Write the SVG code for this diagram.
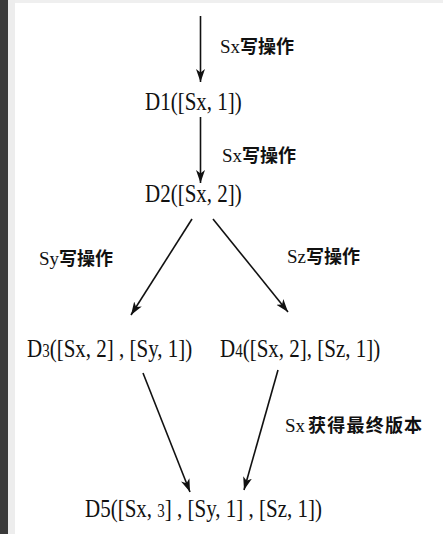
<svg xmlns="http://www.w3.org/2000/svg" width="443" height="534" viewBox="0 0 443 534">
  <defs>
    <marker id="ah" markerUnits="userSpaceOnUse" markerWidth="14" markerHeight="10" refX="13" refY="4.5" orient="auto">
      <path d="M0,0 L13,4.5 L0,9 L3.5,4.5 z" fill="#111"/>
    </marker>
    <style>
      .n { font-family: "Liberation Serif", "Times New Roman", serif; font-size: 21px; fill: #111; }
      .s { font-size: 15px; }
      .l { font-family: "Liberation Serif", "Noto Sans CJK SC", serif; font-size: 19px; fill: #111; }
      .c { font-family: "Noto Sans CJK SC", sans-serif; font-weight: bold; font-size: 18px; }
      .e { stroke: #111; stroke-width: 1.6; fill: none; marker-end: url(#ah); }
    </style>
  </defs>
  <rect x="0" y="0" width="443" height="534" fill="#ffffff"/>
  <rect x="0" y="0" width="443" height="3" fill="#efefef"/>
  <rect x="8" y="0" width="7" height="534" fill="#ededed"/>
  <rect x="0" y="0" width="8" height="534" fill="#3a3a3a"/>

  <g id="connectors">
    <line class="e" x1="200.5" y1="16" x2="200.5" y2="82"/>
    <line class="e" x1="200.5" y1="117" x2="200.5" y2="183"/>
    <line class="e" x1="192" y1="219" x2="131" y2="315"/>
    <line class="e" x1="213" y1="219" x2="288" y2="312"/>
    <line class="e" x1="143" y1="373" x2="190" y2="492"/>
    <line class="e" x1="278" y1="370" x2="244" y2="490"/>
  </g>

  <g id="labels">
    <text class="l" x="220" y="53">Sx<tspan class="c">写操作</tspan></text>
    <text class="l" x="222" y="162">Sx<tspan class="c">写操作</tspan></text>
    <text class="l" x="39" y="265">Sy<tspan class="c">写操作</tspan></text>
    <text class="l" x="287" y="263">Sz<tspan class="c">写操作</tspan></text>
    <text class="l" x="285" y="432">Sx<tspan class="c" dx="3" letter-spacing="1.2">获得最终版本</tspan></text>
  </g>

  <g id="D1"><text class="n" transform="translate(145,110) scale(1,1.2)">D1([Sx, 1])</text></g>
  <g id="D2"><text class="n" transform="translate(145,202) scale(1,1.2)">D2([Sx, 2])</text></g>
  <g id="D3"><text class="n" transform="translate(27,357) scale(1,1.2)">D<tspan class="s">3</tspan>([Sx, 2] , [Sy, 1])</text></g>
  <g id="D4"><text class="n" transform="translate(220,357) scale(1,1.2)">D<tspan class="s">4</tspan>([Sx, 2], [Sz, 1])</text></g>
  <g id="D5"><text class="n" transform="translate(85,517) scale(1,1.2)">D5([Sx, <tspan class="s">3</tspan>] , [Sy, 1] , [Sz, 1])</text></g>
</svg>
